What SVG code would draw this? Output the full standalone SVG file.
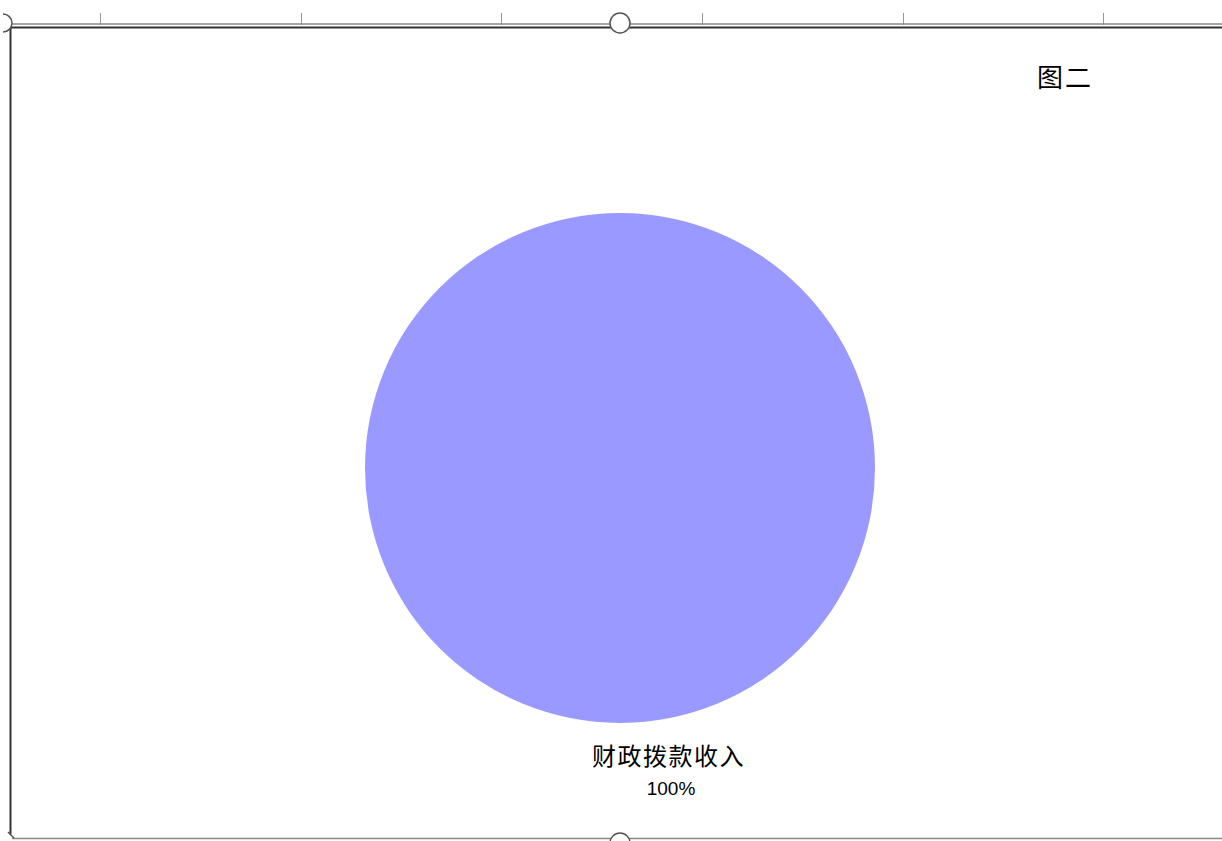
<svg xmlns="http://www.w3.org/2000/svg" width="1222" height="841" viewBox="0 0 1222 841">
<style>
.t{font-family:"Liberation Sans","Noto Sans CJK SC",sans-serif;fill:#000}
.tick{stroke:#999;stroke-width:1}
</style>
<rect width="1222" height="841" fill="#fff"/>
<g id="frame">
<g class="tick">
<line x1="100.5" y1="13" x2="100.5" y2="25"/>
<line x1="301.5" y1="13" x2="301.5" y2="25"/>
<line x1="501.5" y1="13" x2="501.5" y2="25"/>
<line x1="702.5" y1="13" x2="702.5" y2="25"/>
<line x1="903.5" y1="13" x2="903.5" y2="25"/>
<line x1="1103.5" y1="13" x2="1103.5" y2="25"/>
</g>
<line x1="10" y1="24" x2="1222" y2="24" stroke="#888" stroke-width="1.5"/>
<line x1="10" y1="27.5" x2="1222" y2="27.5" stroke="#333" stroke-width="2"/>
<line x1="10.5" y1="28" x2="10.5" y2="834" stroke="#333" stroke-width="2"/>
<line x1="12" y1="838.5" x2="1222" y2="838.5" stroke="#888" stroke-width="1.5"/>
<path d="M3,14 A9,9 0 0 1 3,32" fill="#fff" stroke="#555" stroke-width="1.5"/>
<path d="M8,832 L14,838" stroke="#555" stroke-width="1.5"/>
<circle cx="620" cy="23" r="10" fill="#fff" stroke="#555" stroke-width="1.5"/>
<circle cx="620" cy="843" r="10" fill="#fff" stroke="#555" stroke-width="1.5"/>
</g>
<g id="title"><text class="t" x="1037" y="87" font-size="26" letter-spacing="2">图二</text></g>
<g id="pie"><circle cx="620" cy="468" r="255" fill="#9999FF"/></g>
<g id="label">
<text class="t" x="668.5" y="765" font-size="24" letter-spacing="1.5" text-anchor="middle">财政拨款收入</text>
<text class="t" x="671" y="795" font-size="19" text-anchor="middle">100%</text>
</g>
</svg>
